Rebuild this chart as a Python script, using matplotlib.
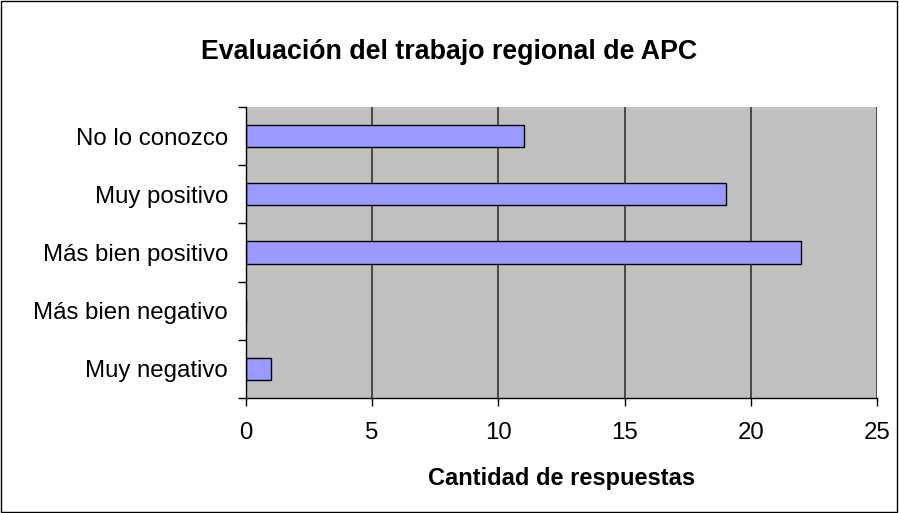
import matplotlib.pyplot as plt
from matplotlib.patches import Rectangle

plt.rcParams['font.family'] = ['Liberation Sans', 'DejaVu Sans']

categorias = ['Muy negativo', 'Más bien negativo', 'Más bien positivo', 'Muy positivo', 'No lo conozco']
respuestas = [1, 0, 22, 19, 11]
ticks_x = [0, 5, 10, 15, 20, 25]

fig = plt.figure(figsize=(8.99, 5.13), dpi=100)
ax = fig.add_axes([0.2736, 0.2242, 0.7019, 0.5672])
ax.set_facecolor('#C0C0C0')

# gridlines
for t in ticks_x[1:]:
    ax.axvline(t, color='#333333', lw=1.2, zorder=1)

pos = list(range(len(categorias)))
ax.barh(pos, respuestas, height=0.38, color='#9999FF', edgecolor='black', lw=1, zorder=2)

ax.set_xlim(0, 25)
ax.set_ylim(-0.5, len(categorias) - 0.5)
ax.set_xticks(ticks_x)
ax.set_xticklabels([str(t) for t in ticks_x], fontsize=17.3)
ax.set_yticks([p - 0.5 for p in pos] + [len(categorias) - 0.5])
ax.set_yticklabels([])
ax.set_yticks(pos, minor=True)
ax.set_yticklabels(categorias, minor=True, fontsize=17.3)
ax.tick_params(axis='y', which='minor', length=0, pad=13)
ax.tick_params(axis='y', which='major', length=6, width=1, direction='out')
ax.tick_params(axis='x', length=6, width=1, direction='out', pad=11.5)

for s in ['top', 'right']:
    ax.spines[s].set_visible(False)
ax.spines['left'].set_linewidth(1)
ax.spines['bottom'].set_linewidth(1)

fig.text(0.6246, 0.068, 'Cantidad de respuestas', fontsize=17, fontweight='bold',
         ha='center', va='center')
fig.text(0.5, 0.899, 'Evaluación del trabajo regional de APC', fontsize=19.3,
         fontweight='bold', ha='center', va='center')

fig.patches.append(Rectangle((0.001, 0.001), 0.997, 0.997, transform=fig.transFigure,
                             fill=False, edgecolor='black', lw=1))

fig.savefig('out.png', dpi=100)
